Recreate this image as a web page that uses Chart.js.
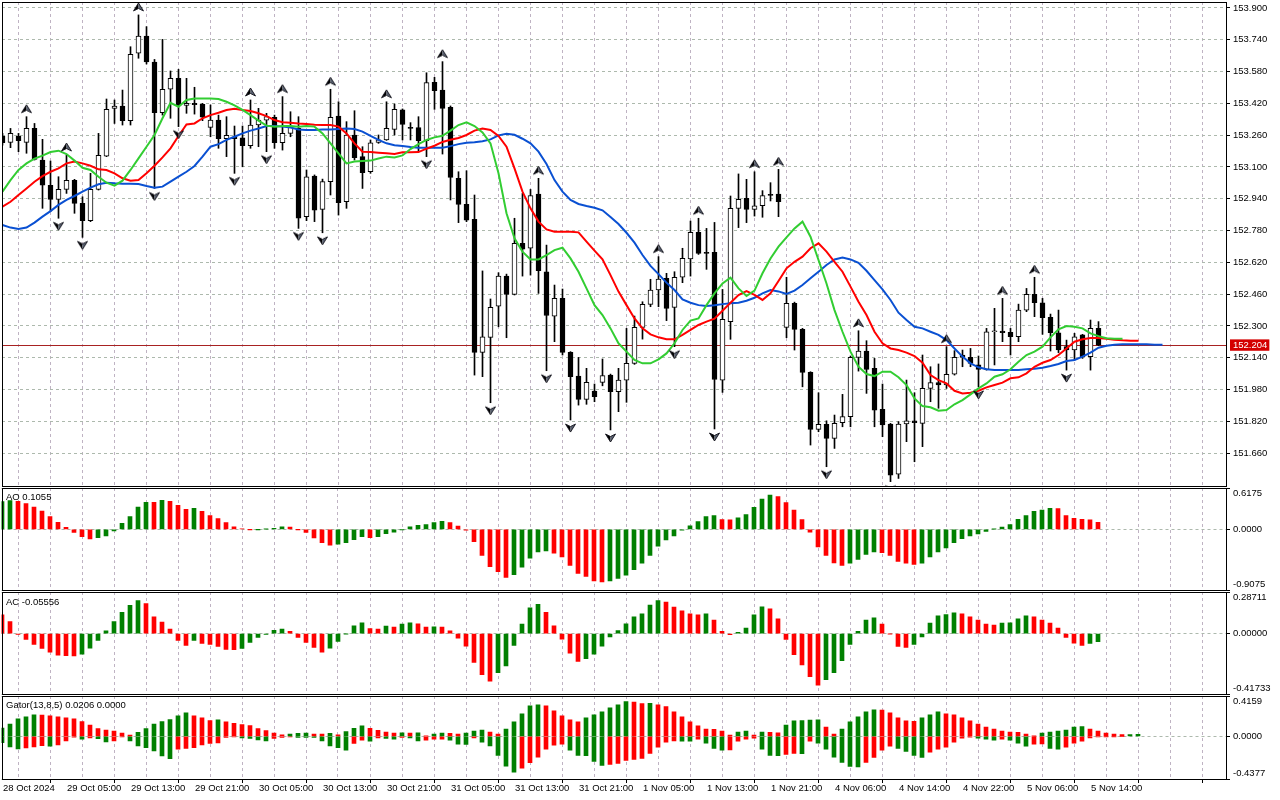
<!DOCTYPE html>
<html><head><meta charset="utf-8"><title>USDJPY H1 - Alligator, Fractals, AO, AC, Gator</title>
<script src="https://cdn.jsdelivr.net/npm/chart.js@4.4.1/dist/chart.umd.min.js"></script>
<style>
html,body{margin:0;padding:0;background:#fff;}
body{width:1280px;height:800px;position:relative;overflow:hidden;}
canvas{position:absolute;left:0;}
.ttl{position:absolute;left:6px;font-family:'Liberation Sans',Arial,sans-serif;font-size:9.5px;line-height:11px;color:#000;white-space:nowrap;z-index:2;}
</style></head><body>
<canvas id="cMain" width="1280" height="487" style="top:0;width:1280px;height:487px"></canvas>
<canvas id="cAO" width="1280" height="104" style="top:487px;width:1280px;height:104px"></canvas>
<canvas id="cAC" width="1280" height="104" style="top:591px;width:1280px;height:104px"></canvas>
<canvas id="cGator" width="1280" height="105" style="top:695px;width:1280px;height:105px"></canvas>
<div class="ttl" id="tAO" style="top:491px"></div>
<div class="ttl" id="tAC" style="top:596px"></div>
<div class="ttl" id="tGator" style="top:699px"></div>
<script>
// ---------------- DATA ----------------
const timeLabels = ['28 Oct 2024','29 Oct 05:00','29 Oct 13:00','29 Oct 21:00','30 Oct 05:00','30 Oct 13:00','30 Oct 21:00','31 Oct 05:00','31 Oct 13:00','31 Oct 21:00','1 Nov 05:00','1 Nov 13:00','1 Nov 21:00','4 Nov 06:00','4 Nov 14:00','4 Nov 22:00','5 Nov 06:00','5 Nov 14:00'];

const openP = [153.256,153.224,153.256,153.224,153.294,153.135,153.008,152.937,152.987,153.033,
152.917,152.830,152.987,153.155,153.395,153.407,153.333,153.672,153.759,153.628,
153.373,153.491,153.546,153.410,153.420,153.415,153.299,153.336,153.242,153.252,
153.247,153.207,153.311,153.336,153.350,153.222,153.269,153.294,152.850,153.054,
152.887,153.026,153.356,152.925,153.261,153.152,153.076,153.224,153.236,153.289,
153.387,153.296,153.298,153.232,153.526,153.487,153.400,153.043,152.912,152.836,
152.167,152.243,152.400,152.551,152.459,152.716,152.691,152.964,152.573,152.350,
152.439,152.167,152.048,151.931,151.973,152.016,152.053,151.969,152.028,152.112,
152.293,152.409,152.481,152.540,152.394,152.545,152.637,152.771,152.670,152.670,
152.028,152.322,152.892,152.942,152.887,152.905,152.962,152.964,152.293,152.414,
152.283,152.067,151.780,151.805,151.735,151.813,151.844,152.142,152.174,152.087,
151.881,151.807,151.555,151.807,151.823,151.810,151.986,152.015,152.003,152.057,
152.154,152.142,152.104,152.082,152.271,152.275,152.268,152.246,152.380,152.459,
152.417,152.343,152.266,152.196,152.179,152.255,152.146,152.288];

const highP = [153.269,153.294,153.269,153.353,153.319,153.239,153.130,153.051,153.160,153.038,
152.950,153.068,153.269,153.442,153.437,153.487,153.705,153.865,153.806,153.641,
153.742,153.583,153.591,153.546,153.501,153.420,153.412,153.361,153.353,153.306,
153.306,153.437,153.395,153.370,153.361,153.454,153.378,153.353,153.085,153.060,
153.039,153.491,153.428,153.328,153.383,153.202,153.236,153.261,153.428,153.417,
153.392,153.323,153.353,153.574,153.551,153.630,153.407,153.076,153.081,152.959,
152.577,152.436,152.568,152.561,152.842,152.967,152.987,153.043,152.707,152.506,
152.486,152.171,152.142,152.087,152.008,152.134,152.058,152.087,152.288,152.350,
152.422,152.535,152.649,152.565,152.573,152.691,152.828,152.842,152.791,152.821,
152.484,152.954,153.065,153.038,153.076,152.981,153.021,153.088,152.545,152.420,
152.288,152.070,151.964,151.823,151.852,151.956,152.149,152.276,152.226,152.137,
152.008,151.810,151.819,152.028,151.964,152.154,152.095,152.109,152.196,152.176,
152.179,152.187,152.149,152.288,152.389,152.439,152.288,152.410,152.489,152.545,
152.439,152.360,152.380,152.229,152.263,152.258,152.330,152.322];

const lowP = [153.210,153.197,153.177,153.169,153.135,152.892,152.875,152.842,152.967,152.867,
152.746,152.825,152.984,153.152,153.319,153.311,153.311,153.647,153.618,152.992,
153.361,153.345,153.303,153.370,153.366,153.333,153.252,153.194,153.152,153.068,
153.101,153.194,153.202,153.177,153.194,153.185,153.252,152.791,152.830,152.825,
152.769,152.959,152.858,152.892,153.135,152.992,153.068,153.219,153.234,153.261,
153.236,153.236,153.177,153.152,153.390,153.165,152.934,152.820,152.825,152.053,
152.045,151.914,152.296,152.241,152.456,152.551,152.556,152.464,152.075,152.221,
152.154,151.827,151.902,151.906,151.919,151.999,151.777,151.869,151.916,152.107,
152.234,152.397,152.397,152.327,152.196,152.518,152.551,152.660,152.585,151.782,
151.966,152.233,152.795,152.820,152.853,152.847,152.929,152.850,152.241,152.179,
151.994,151.701,151.768,151.592,151.684,151.793,151.793,152.073,151.961,151.793,
151.743,151.517,151.533,151.718,151.617,151.693,151.919,151.886,151.986,152.053,
152.095,152.095,151.994,152.078,152.104,152.221,152.154,152.221,152.372,152.347,
152.258,152.174,152.166,152.078,152.129,152.137,152.078,152.201];

const closeP = [153.222,153.269,153.232,153.294,153.138,153.008,152.937,152.987,153.033,152.917,
152.830,152.987,153.158,153.390,153.407,153.333,153.667,153.759,153.628,153.373,
153.491,153.546,153.407,153.420,153.413,153.350,153.336,153.242,153.259,153.242,
153.207,153.311,153.336,153.353,153.222,153.269,153.303,152.842,153.051,152.883,
153.026,153.350,152.920,153.261,153.147,153.071,153.222,153.236,153.294,153.390,
153.314,153.294,153.232,153.524,153.484,153.395,153.048,152.912,152.833,152.167,
152.246,152.394,152.551,152.459,152.716,152.686,152.956,152.578,152.353,152.439,
152.167,152.045,151.931,152.016,151.944,152.050,151.969,152.028,152.112,152.293,
152.409,152.481,152.536,152.389,152.545,152.640,152.771,152.665,152.665,152.031,
152.333,152.892,152.937,152.887,152.905,152.956,152.957,152.925,152.414,152.283,
152.067,151.780,151.805,151.735,151.810,151.844,152.142,152.174,152.082,151.877,
151.802,151.550,151.807,151.823,151.813,151.986,152.015,152.003,152.057,152.142,
152.142,152.112,152.082,152.271,152.273,152.266,152.246,152.380,152.459,152.417,
152.342,152.266,152.179,152.179,152.246,152.146,152.288,152.204];

// Alligator (already shifted forward: jaw +8, teeth +5, lips +3)
const jaw = [152.808,152.795,152.788,152.795,152.820,152.850,152.878,152.909,152.934,152.954,
152.976,152.996,153.013,153.021,153.018,153.016,153.016,153.014,153.004,152.996,
153.001,153.026,153.051,153.076,153.105,153.152,153.202,153.215,153.236,153.252,
153.269,153.283,153.294,153.306,153.306,153.303,153.299,153.289,153.286,153.286,
153.288,153.289,153.291,153.293,153.291,153.278,153.256,153.236,153.219,153.209,
153.205,153.200,153.197,153.197,153.197,153.197,153.205,153.215,153.222,153.224,
153.229,153.239,153.259,153.267,153.262,153.242,153.219,153.177,153.115,153.034,
152.976,152.934,152.914,152.904,152.895,152.882,152.848,152.813,152.769,152.719,
152.657,152.602,152.561,152.518,152.481,152.434,152.417,152.405,152.400,152.404,
152.410,152.414,152.417,152.427,152.442,152.464,152.481,152.474,152.461,152.478,
152.506,152.540,152.573,152.607,152.635,152.644,152.635,152.618,152.578,152.531,
152.484,152.431,152.367,152.330,152.296,152.288,152.271,152.255,152.229,152.187,
152.146,152.112,152.092,152.082,152.078,152.078,152.078,152.078,152.082,152.085,
152.090,152.099,152.109,152.124,152.129,152.146,152.166,152.191,152.201,152.206,
152.208,152.208,152.208,152.208,152.206,152.206];

const teeth = [152.900,152.925,152.959,152.992,153.026,153.054,153.076,153.093,153.118,153.128,
153.118,153.106,153.088,153.085,153.068,153.043,153.031,153.034,153.068,153.106,
153.148,153.194,153.256,153.314,153.319,153.345,153.361,153.373,153.387,153.393,
153.387,153.382,153.370,153.356,153.336,153.325,153.323,153.319,153.316,153.313,
153.311,153.311,153.303,153.269,153.219,153.177,153.175,153.172,153.169,153.165,
153.174,153.174,153.175,153.192,153.207,153.226,153.237,153.246,153.261,153.283,
153.294,153.286,153.256,153.202,153.093,152.976,152.892,152.825,152.786,152.774,
152.774,152.774,152.771,152.724,152.679,152.635,152.556,152.473,152.405,152.338,
152.288,152.258,152.243,152.233,152.233,152.255,152.280,152.305,152.322,152.337,
152.377,152.417,152.456,152.476,152.457,152.431,152.464,152.526,152.590,152.623,
152.649,152.691,152.716,152.674,152.623,152.573,152.498,152.422,152.355,152.271,
152.213,152.187,152.179,152.166,152.149,152.115,152.053,152.028,152.011,151.974,
151.961,151.964,151.974,151.991,152.003,152.015,152.037,152.042,152.062,152.095,
152.115,152.129,152.154,152.187,152.221,152.233,152.239,152.239,152.236,152.231,
152.228,152.226,152.226];

const lips = [152.976,153.034,153.085,153.118,153.142,153.157,153.175,153.182,153.165,153.132,
153.096,153.085,153.051,153.021,153.006,153.031,153.085,153.143,153.202,153.261,
153.345,153.423,153.403,153.437,153.444,153.444,153.445,153.442,153.428,153.410,
153.387,153.361,153.333,153.308,153.303,153.306,153.306,153.303,153.306,153.303,
153.269,153.219,153.169,153.118,153.127,153.130,153.132,153.143,153.152,153.148,
153.158,153.190,153.215,153.236,153.249,153.257,153.283,153.311,153.325,153.306,
153.274,153.219,153.068,152.867,152.741,152.674,152.635,152.635,152.657,152.682,
152.694,152.640,152.573,152.489,152.405,152.355,152.288,152.213,152.171,152.129,
152.112,152.112,152.132,152.162,152.213,152.280,152.327,152.338,152.405,152.464,
152.514,152.543,152.489,152.451,152.478,152.565,152.640,152.699,152.746,152.791,
152.825,152.749,152.632,152.514,152.380,152.271,152.171,152.095,152.058,152.048,
152.070,152.070,152.042,152.003,151.936,151.897,151.891,151.874,151.877,151.906,
151.927,151.956,151.986,152.011,152.045,152.057,152.082,152.120,152.154,152.171,
152.196,152.243,152.283,152.300,152.296,152.288,152.263,152.249,152.238,152.236,
152.236];

const fractalUpIdx = [3,8,17,31,35,41,48,55,67,82,87,94,97,107,118,125,129];
const fractalDownIdx = [7,10,19,22,29,33,37,40,53,61,68,71,76,84,89,103,111,122,133];

const ao = [0.415,0.428,0.420,0.384,0.333,0.272,0.191,0.104,0.028,-0.048,
-0.109,-0.145,-0.125,-0.099,-0.023,0.089,0.191,0.333,0.404,0.403,
0.435,0.419,0.358,0.297,0.313,0.267,0.206,0.160,0.099,0.038,
0.008,-0.002,-0.001,0.002,0.016,0.036,0.033,-0.002,-0.048,-0.128,
-0.200,-0.236,-0.221,-0.200,-0.155,-0.109,-0.125,-0.109,-0.064,-0.043,
-0.003,0.038,0.058,0.069,0.099,0.119,0.099,0.048,-0.013,-0.186,
-0.389,-0.557,-0.633,-0.720,-0.679,-0.567,-0.430,-0.338,-0.323,-0.358,
-0.414,-0.541,-0.658,-0.704,-0.770,-0.785,-0.770,-0.735,-0.684,-0.602,
-0.506,-0.389,-0.252,-0.160,-0.099,-0.013,0.053,0.114,0.191,0.206,
0.145,0.143,0.170,0.221,0.328,0.450,0.511,0.491,0.400,0.287,
0.145,-0.043,-0.262,-0.389,-0.501,-0.541,-0.506,-0.450,-0.374,-0.338,
-0.348,-0.389,-0.480,-0.506,-0.526,-0.506,-0.414,-0.338,-0.277,-0.200,
-0.140,-0.099,-0.069,-0.033,0.003,0.033,0.069,0.150,0.206,0.267,
0.287,0.313,0.310,0.206,0.165,0.150,0.140,0.1055];

const ac = [0.129,0.082,-0.005,-0.040,-0.075,-0.103,-0.129,-0.150,-0.153,-0.155,
-0.143,-0.101,-0.047,0.019,0.082,0.146,0.195,0.228,0.207,0.115,
0.080,0.031,-0.047,-0.082,-0.047,-0.068,-0.075,-0.089,-0.110,-0.111,
-0.103,-0.061,-0.026,-0.005,0.023,0.031,0.016,-0.026,-0.061,-0.096,
-0.129,-0.101,-0.054,-0.002,0.054,0.075,0.035,0.031,0.052,0.045,
0.066,0.075,0.068,0.045,0.046,0.044,0.019,-0.031,-0.087,-0.200,
-0.284,-0.329,-0.270,-0.223,-0.082,0.066,0.178,0.202,0.146,0.054,
-0.038,-0.136,-0.192,-0.174,-0.143,-0.087,-0.023,0.021,0.068,0.115,
0.136,0.197,0.228,0.218,0.183,0.157,0.136,0.129,0.136,0.094,
0.016,-0.007,0.009,0.038,0.129,0.185,0.171,0.101,-0.040,-0.146,
-0.216,-0.298,-0.357,-0.319,-0.270,-0.188,-0.075,0.016,0.094,0.108,
0.066,-0.002,-0.089,-0.096,-0.075,-0.023,0.073,0.122,0.131,0.143,
0.136,0.115,0.094,0.066,0.059,0.073,0.074,0.101,0.122,0.115,
0.094,0.073,0.038,-0.026,-0.066,-0.082,-0.068,-0.05556];

const gatorUp = [0.087,0.128,0.181,0.201,0.222,0.219,0.212,0.201,0.191,0.181,
0.153,0.118,0.080,0.066,0.056,0.035,0.014,0.042,0.080,0.128,
0.153,0.174,0.212,0.243,0.212,0.191,0.163,0.170,0.149,0.135,
0.122,0.111,0.080,0.059,0.035,0.017,0.024,0.031,0.035,0.024,
0.023,0.031,0.017,0.049,0.083,0.108,0.083,0.063,0.045,0.035,
0.036,0.035,0.036,0.007,0.024,0.035,0.033,0.024,0.035,0.056,
0.066,0.045,0.024,0.076,0.149,0.233,0.316,0.326,0.316,0.264,
0.212,0.170,0.149,0.191,0.222,0.253,0.295,0.326,0.358,0.354,
0.337,0.340,0.326,0.306,0.253,0.201,0.149,0.108,0.076,0.073,
0.056,0.014,0.045,0.056,0.014,0.045,0.042,0.038,0.118,0.160,
0.163,0.167,0.170,0.097,0.024,0.076,0.149,0.201,0.253,0.274,
0.271,0.243,0.191,0.160,0.156,0.191,0.222,0.253,0.233,0.222,
0.191,0.160,0.128,0.097,0.076,0.056,0.045,0.042,0.024,0.003,
0.035,0.045,0.056,0.066,0.097,0.101,0.076,0.056,0.035,0.024,
0.019,0.020,0.0206];

const gatorDown = [-0.063,-0.108,-0.128,-0.118,-0.108,-0.094,-0.101,-0.087,-0.045,-0.007,
-0.028,-0.014,-0.024,-0.056,-0.045,-0.003,-0.045,-0.097,-0.115,-0.149,
-0.201,-0.229,-0.132,-0.122,-0.115,-0.087,-0.073,-0.066,-0.010,-0.003,
-0.014,-0.021,-0.035,-0.045,-0.021,-0.010,-0.003,-0.010,-0.010,-0.010,
-0.045,-0.097,-0.115,-0.142,-0.073,-0.038,-0.049,-0.014,-0.021,-0.028,
-0.010,-0.014,-0.045,-0.038,-0.028,-0.027,-0.038,-0.080,-0.081,-0.014,
-0.059,-0.097,-0.194,-0.306,-0.368,-0.326,-0.271,-0.212,-0.132,-0.090,
-0.080,-0.142,-0.194,-0.198,-0.257,-0.299,-0.288,-0.278,-0.247,-0.236,
-0.226,-0.174,-0.111,-0.059,-0.045,-0.049,-0.049,-0.028,-0.069,-0.122,
-0.142,-0.139,-0.049,-0.028,-0.017,-0.132,-0.194,-0.198,-0.184,-0.174,
-0.177,-0.049,-0.069,-0.132,-0.212,-0.267,-0.309,-0.313,-0.267,-0.215,
-0.142,-0.101,-0.122,-0.153,-0.194,-0.215,-0.163,-0.132,-0.111,-0.059,
-0.017,-0.007,-0.017,-0.028,-0.038,-0.028,-0.038,-0.069,-0.101,-0.080,
-0.076,-0.122,-0.132,-0.111,-0.069,-0.049,-0.014,-0.003,-0.002,-0.001,
0];

const priceTicks = [151.660,151.820,151.980,152.140,152.300,152.460,152.620,152.780,152.940,153.100,153.260,153.420,153.580,153.740,153.900];
const lastPrice = 152.204;
const priceRange = [151.495, 153.930];
const aoRange = [-0.9075, 0.6175];
const acRange = [-0.41733, 0.28711];
const gatorRange = [-0.4377, 0.4159];

// ---------------- STYLE ----------------
Chart.defaults.font.family = "'Liberation Sans', Arial, sans-serif";
Chart.defaults.font.size = 9.5;
Chart.defaults.color = '#000';
const GREEN = '#008000', RED = '#ff0000';
const VGRID = '#bfb3c3', HGRID = '#adb9ad';
const BIDC = '#a82222';
const X_MIN = -0.0625;
const gridIdx = []; for (let v = 0; v <= 152; v += 4) gridIdx.push(v);

function colorsBy(arr, first, better) {
  return arr.map((v, i) => i === 0 ? first : (better(v, arr[i - 1]) ? GREEN : RED));
}
function noPad(s) { s.paddingLeft = 0; s.paddingRight = 0; s.paddingTop = 0; s.paddingBottom = 0; }

const framePlugin = {
  id: 'frame',
  afterDraw(chart) {
    const {ctx, chartArea: a} = chart;
    const l = Math.round(a.left), t = Math.round(a.top), r = Math.round(a.right), b = Math.round(a.bottom);
    ctx.save();
    ctx.strokeStyle = '#000'; ctx.lineWidth = 1; ctx.setLineDash([]);
    ctx.strokeRect(l + 0.5, t + 0.5, r - l, b - t);
    ctx.restore();
  }
};

function xScale(max, showLabels) {
  return {
    type: 'linear', min: X_MIN, max: max, bounds: 'data', offset: false,
    afterBuildTicks: s => { s.ticks = gridIdx.map(v => ({value: v})); },
    afterFit: s => { s.height = showLabels ? 21 : 0; noPad(s); },
    border: {display: false, dash: [3, 3]},
    grid: {
      color: VGRID, lineWidth: 1, drawTicks: showLabels, tickLength: 4, tickWidth: 1, tickBorderDash: [],
      tickColor: c => (c.tick && c.tick.value % 8 === 0) ? '#000' : 'rgba(0,0,0,0)'
    },
    ticks: {
      display: showLabels, autoSkip: false, maxRotation: 0, minRotation: 0,
      align: 'start', padding: 0, labelOffset: 1,
      callback: v => (v % 8 === 0 && timeLabels[v / 8]) ? timeLabels[v / 8] : ''
    }
  };
}

function subY(range, decimals) {
  const [mn, mx] = range;
  return {
    type: 'linear', position: 'right', min: mn, max: mx, bounds: 'data',
    afterBuildTicks: s => { s.ticks = [mn, 0, mx].map(v => ({value: v})); },
    afterFit: s => { s.width = 54; noPad(s); },
    border: {display: false, dash: [3, 3]},
    grid: {color: HGRID, lineWidth: 1, tickLength: 4, tickColor: '#000', tickBorderDash: []},
    ticks: {
      autoSkip: false, padding: 3,
      callback: v => {
        const t = v.toFixed(decimals);
        if (v === mx) return ['', t];
        if (v === mn) return [t, ''];
        return t;
      }
    }
  };
}

const baseOpts = {
  responsive: false, devicePixelRatio: 1, animation: false, events: [],
  plugins: {legend: {display: false}, tooltip: {enabled: false}, title: {display: false}}
};

// ---------------- MAIN CHART ----------------
const isLast = c => c.tick && Math.abs(c.tick.value - lastPrice) < 1e-9;

function arrowCanvas(up) {
  const c = document.createElement('canvas');
  c.width = 11; c.height = 34;
  const g = c.getContext('2d');
  g.translate(5.5, up ? 5 : 29);
  if (!up) g.scale(1, -1);
  g.lineJoin = 'miter';
  g.beginPath(); g.moveTo(0, 0); g.lineTo(-5, 8); g.lineTo(0, 5.5); g.closePath();
  g.fillStyle = '#000'; g.fill();
  g.beginPath(); g.moveTo(0, 0); g.lineTo(5, 8); g.lineTo(0, 5.5); g.closePath();
  g.fillStyle = '#5a6272'; g.fill();
  g.beginPath(); g.moveTo(0, 0); g.lineTo(5, 8); g.lineTo(0, 5.5); g.lineTo(-5, 8); g.closePath();
  g.strokeStyle = '#101018'; g.lineWidth = 0.9; g.stroke();
  return c;
}
const upArrow = arrowCanvas(true), downArrow = arrowCanvas(false);

const idx = openP.map((_, i) => i);
const bodyData = idx.map(i => ({x: i, y: [Math.min(openP[i], closeP[i]), Math.max(openP[i], closeP[i])]}));
const wickData = idx.map(i => ({x: i, y: [lowP[i], highP[i]]}));
const bodyFill = idx.map(i => closeP[i] >= openP[i] ? '#ffffff' : '#000000');
const lineData = arr => arr.map((v, i) => ({x: i, y: v}));

new Chart(document.getElementById('cMain'), {
  type: 'bar',
  data: {
    datasets: [
      {type: 'line', label: 'Lips', data: lineData(lips), borderColor: '#32cd32', borderWidth: 2, pointRadius: 0, tension: 0, order: 0, clip: 0},
      {type: 'line', label: 'Teeth', data: lineData(teeth), borderColor: '#ff0000', borderWidth: 2, pointRadius: 0, tension: 0, order: 0, clip: 0},
      {type: 'line', label: 'Jaw', data: lineData(jaw), borderColor: '#0a50d2', borderWidth: 2, pointRadius: 0, tension: 0, order: 0, clip: 0},
      {type: 'line', label: 'Fractal up', data: fractalUpIdx.map(i => ({x: i, y: highP[i]})), showLine: false, pointStyle: upArrow, pointRadius: 5, order: -1, clip: 0},
      {type: 'line', label: 'Fractal down', data: fractalDownIdx.map(i => ({x: i, y: lowP[i]})), showLine: false, pointStyle: downArrow, pointRadius: 5, order: -1, clip: 0},
      {type: 'bar', label: 'Body', data: bodyData, backgroundColor: bodyFill, borderColor: '#000', borderWidth: 1, borderSkipped: false, barThickness: 5, grouped: false, minBarLength: 1, order: 1, clip: 0},
      {type: 'bar', label: 'Wick', data: wickData, backgroundColor: '#000', borderWidth: 0, barThickness: 1, grouped: false, minBarLength: 1, order: 2, clip: 0}
    ]
  },
  options: Object.assign({}, baseOpts, {
    layout: {autoPadding: false, padding: {left: 2, top: 2, right: 0, bottom: 1}},
    scales: {
      x: xScale(152.9375, false),
      y: {
        type: 'linear', position: 'right', min: priceRange[0], max: priceRange[1], bounds: 'data',
        afterBuildTicks: s => { s.ticks = priceTicks.concat([lastPrice]).map(v => ({value: v})); },
        afterFit: s => { s.width = 54; noPad(s); },
        border: {display: false, dash: c => isLast(c) ? [] : [3, 3]},
        grid: {
          color: c => isLast(c) ? BIDC : HGRID, lineWidth: 1, tickLength: 4, tickBorderDash: [],
          tickColor: c => isLast(c) ? 'rgba(0,0,0,0)' : '#000'
        },
        ticks: {
          autoSkip: false, padding: 3,
          callback: v => v.toFixed(3),
          color: c => isLast(c) ? '#ffffff' : '#000000',
          showLabelBackdrop: c => !!isLast(c),
          backdropColor: '#d40000',
          backdropPadding: {top: 0, bottom: 0, left: 3, right: 2}
        }
      }
    }
  }),
  plugins: [framePlugin]
});

// ---------------- SUB PANELS ----------------
function histChart(id, datasets, range, decimals, showX, padBottom) {
  return new Chart(document.getElementById(id), {
    type: 'bar',
    data: {datasets},
    options: Object.assign({}, baseOpts, {
      layout: {autoPadding: false, padding: {left: 1.5, top: 1, right: 0, bottom: padBottom}},
      scales: {x: xScale(153.0, showX), y: subY(range, decimals)}
    }),
    plugins: [framePlugin]
  });
}
const histDs = (arr, colors) => ({
  type: 'bar', data: arr.map((v, i) => ({x: i, y: v})), backgroundColor: colors,
  borderWidth: 0, barThickness: 4, grouped: false, clip: 0
});

histChart('cAO', [histDs(ao, colorsBy(ao, GREEN, (a, b) => a > b))], aoRange, 4, false, 1);
histChart('cAC', [histDs(ac, colorsBy(ac, RED, (a, b) => a > b))], acRange, 5, false, 1);
histChart('cGator', [
  histDs(gatorUp, colorsBy(gatorUp, GREEN, (a, b) => a >= b)),
  histDs(gatorDown, colorsBy(gatorDown, GREEN, (a, b) => a <= b))
], gatorRange, 4, true, 0);

document.getElementById('tAO').textContent = 'AO ' + ao[ao.length - 1].toFixed(4);
document.getElementById('tAC').textContent = 'AC ' + ac[ac.length - 1].toFixed(5);
document.getElementById('tGator').textContent = 'Gator(13,8,5) ' + gatorUp[gatorUp.length - 1].toFixed(4) + ' ' + Math.abs(gatorDown[gatorDown.length - 1]).toFixed(4);
</script>
</body></html>
